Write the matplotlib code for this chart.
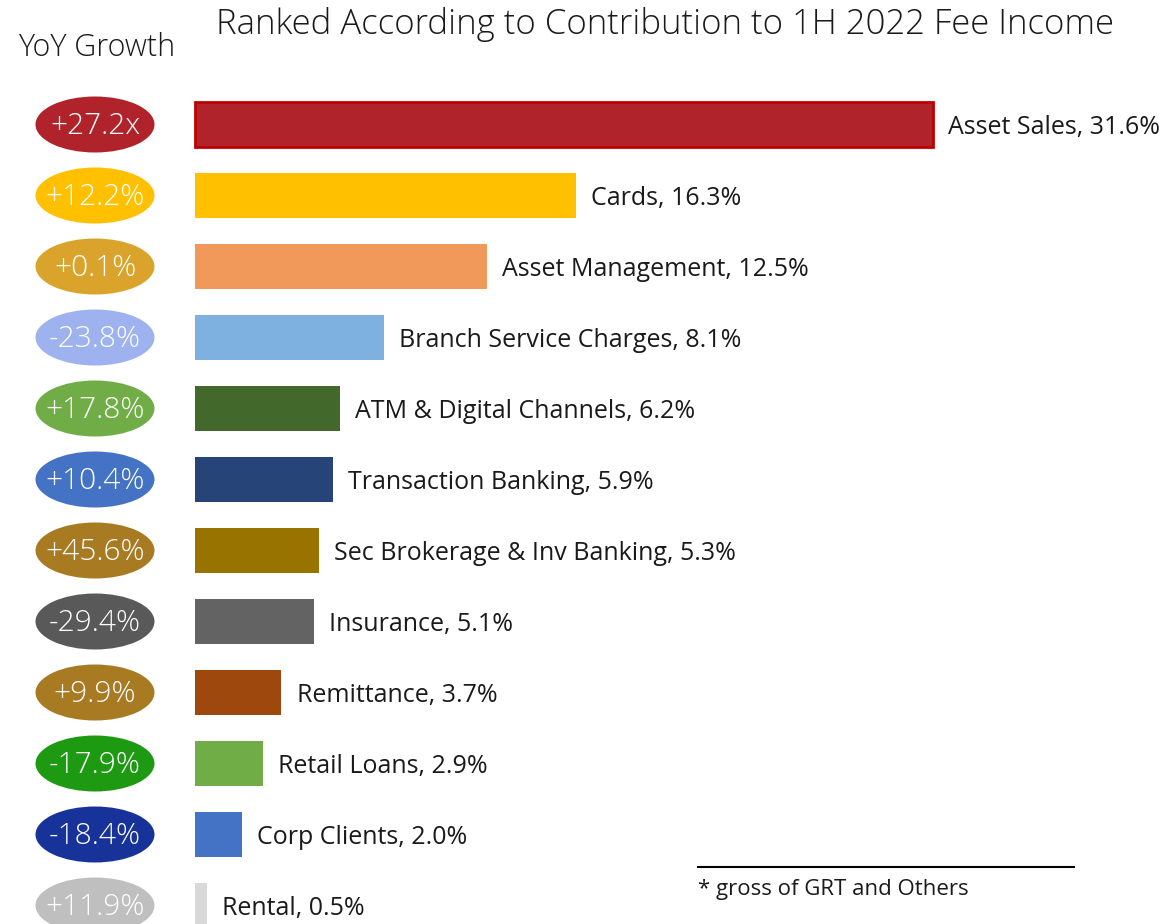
import matplotlib
matplotlib.use("Agg")
import matplotlib.pyplot as plt
from matplotlib.patches import Ellipse

categories = ["Asset Sales", "Cards", "Asset Management", "Branch Service Charges",
              "ATM & Digital Channels", "Transaction Banking", "Sec Brokerage & Inv Banking",
              "Insurance", "Remittance", "Retail Loans", "Corp Clients", "Rental"]
share_pct = [31.6, 16.3, 12.5, 8.1, 6.2, 5.9, 5.3, 5.1, 3.7, 2.9, 2.0, 0.5]
yoy_growth = ["+27.2x", "+12.2%", "+0.1%", "-23.8%", "+17.8%", "+10.4%", "+45.6%",
              "-29.4%", "+9.9%", "-17.9%", "-18.4%", "+11.9%"]
bar_colors = ["#B0232A", "#FFC000", "#F0995A", "#7EB0E0", "#43682B", "#264478",
              "#997300", "#636363", "#9E480E", "#70AD47", "#4472C4", "#D9D9D9"]
badge_colors = ["#B0232A", "#FFC000", "#DAA32C", "#9DB2EE", "#70AD47", "#4472C4",
                "#A87A22", "#595959", "#A87A22", "#1E9A12", "#17339A", "#BFBFBF"]

plt.rcParams["font.family"] = ["Open Sans", "DejaVu Sans"]

W, H = 1174, 924
fig = plt.figure(figsize=(W / 100, H / 100), dpi=100)
ax = fig.add_axes([0, 0, 1, 1])

# pixel geometry of the plotting layout
px_per_pct = 23.35
x0_px = 195
row0_px = 124.5
row_px = 71.0

ax.set_xlim(-x0_px / px_per_pct, (W - x0_px) / px_per_pct)
ax.set_ylim((H - row0_px) / row_px, -row0_px / row_px)
ax.axis("off")

rows = list(range(len(categories)))
bars = ax.barh(rows, share_pct, height=0.635, color=bar_colors, left=0)
bars[0].set_edgecolor("#C00000")
bars[0].set_linewidth(2)

for i, (cat, val) in enumerate(zip(categories, share_pct)):
    ax.annotate(f"{cat}, {val:.1f}%", xy=(val, i + 0.04), xytext=(11, 0),
                textcoords="offset points", ha="left", va="center",
                fontsize=18, color="#1a1a1a")

badge_x = (95 - x0_px) / px_per_pct
badge_w = 119 / px_per_pct
badge_h = 56 / row_px
for i, (g, c) in enumerate(zip(yoy_growth, badge_colors)):
    ax.add_patch(Ellipse((badge_x, i), badge_w, badge_h, facecolor=c,
                         edgecolor="none", zorder=3))
    ax.text(badge_x, i + 0.02, g, ha="center", va="center", fontsize=21.5,
            color="white", fontweight="light", zorder=4)

fig.text(665 / W, 1 - 24 / H, "Ranked According to Contribution to 1H 2022 Fee Income",
         ha="center", va="center", fontsize=25, fontweight="light", color="#1a1a1a")
fig.text(97 / W, 1 - 48 / H, "YoY Growth", ha="center", va="center",
         fontsize=22, fontweight="light", color="#1a1a1a")

fig.add_artist(plt.Line2D([698 / W, 1074 / W], [1 - 867 / H, 1 - 867 / H],
                          color="black", linewidth=1.5))
fig.text(698 / W, 1 - 889 / H, "* gross of GRT and Others", ha="left", va="center",
         fontsize=16, color="#1a1a1a")

fig.savefig("out.png", dpi=100)
